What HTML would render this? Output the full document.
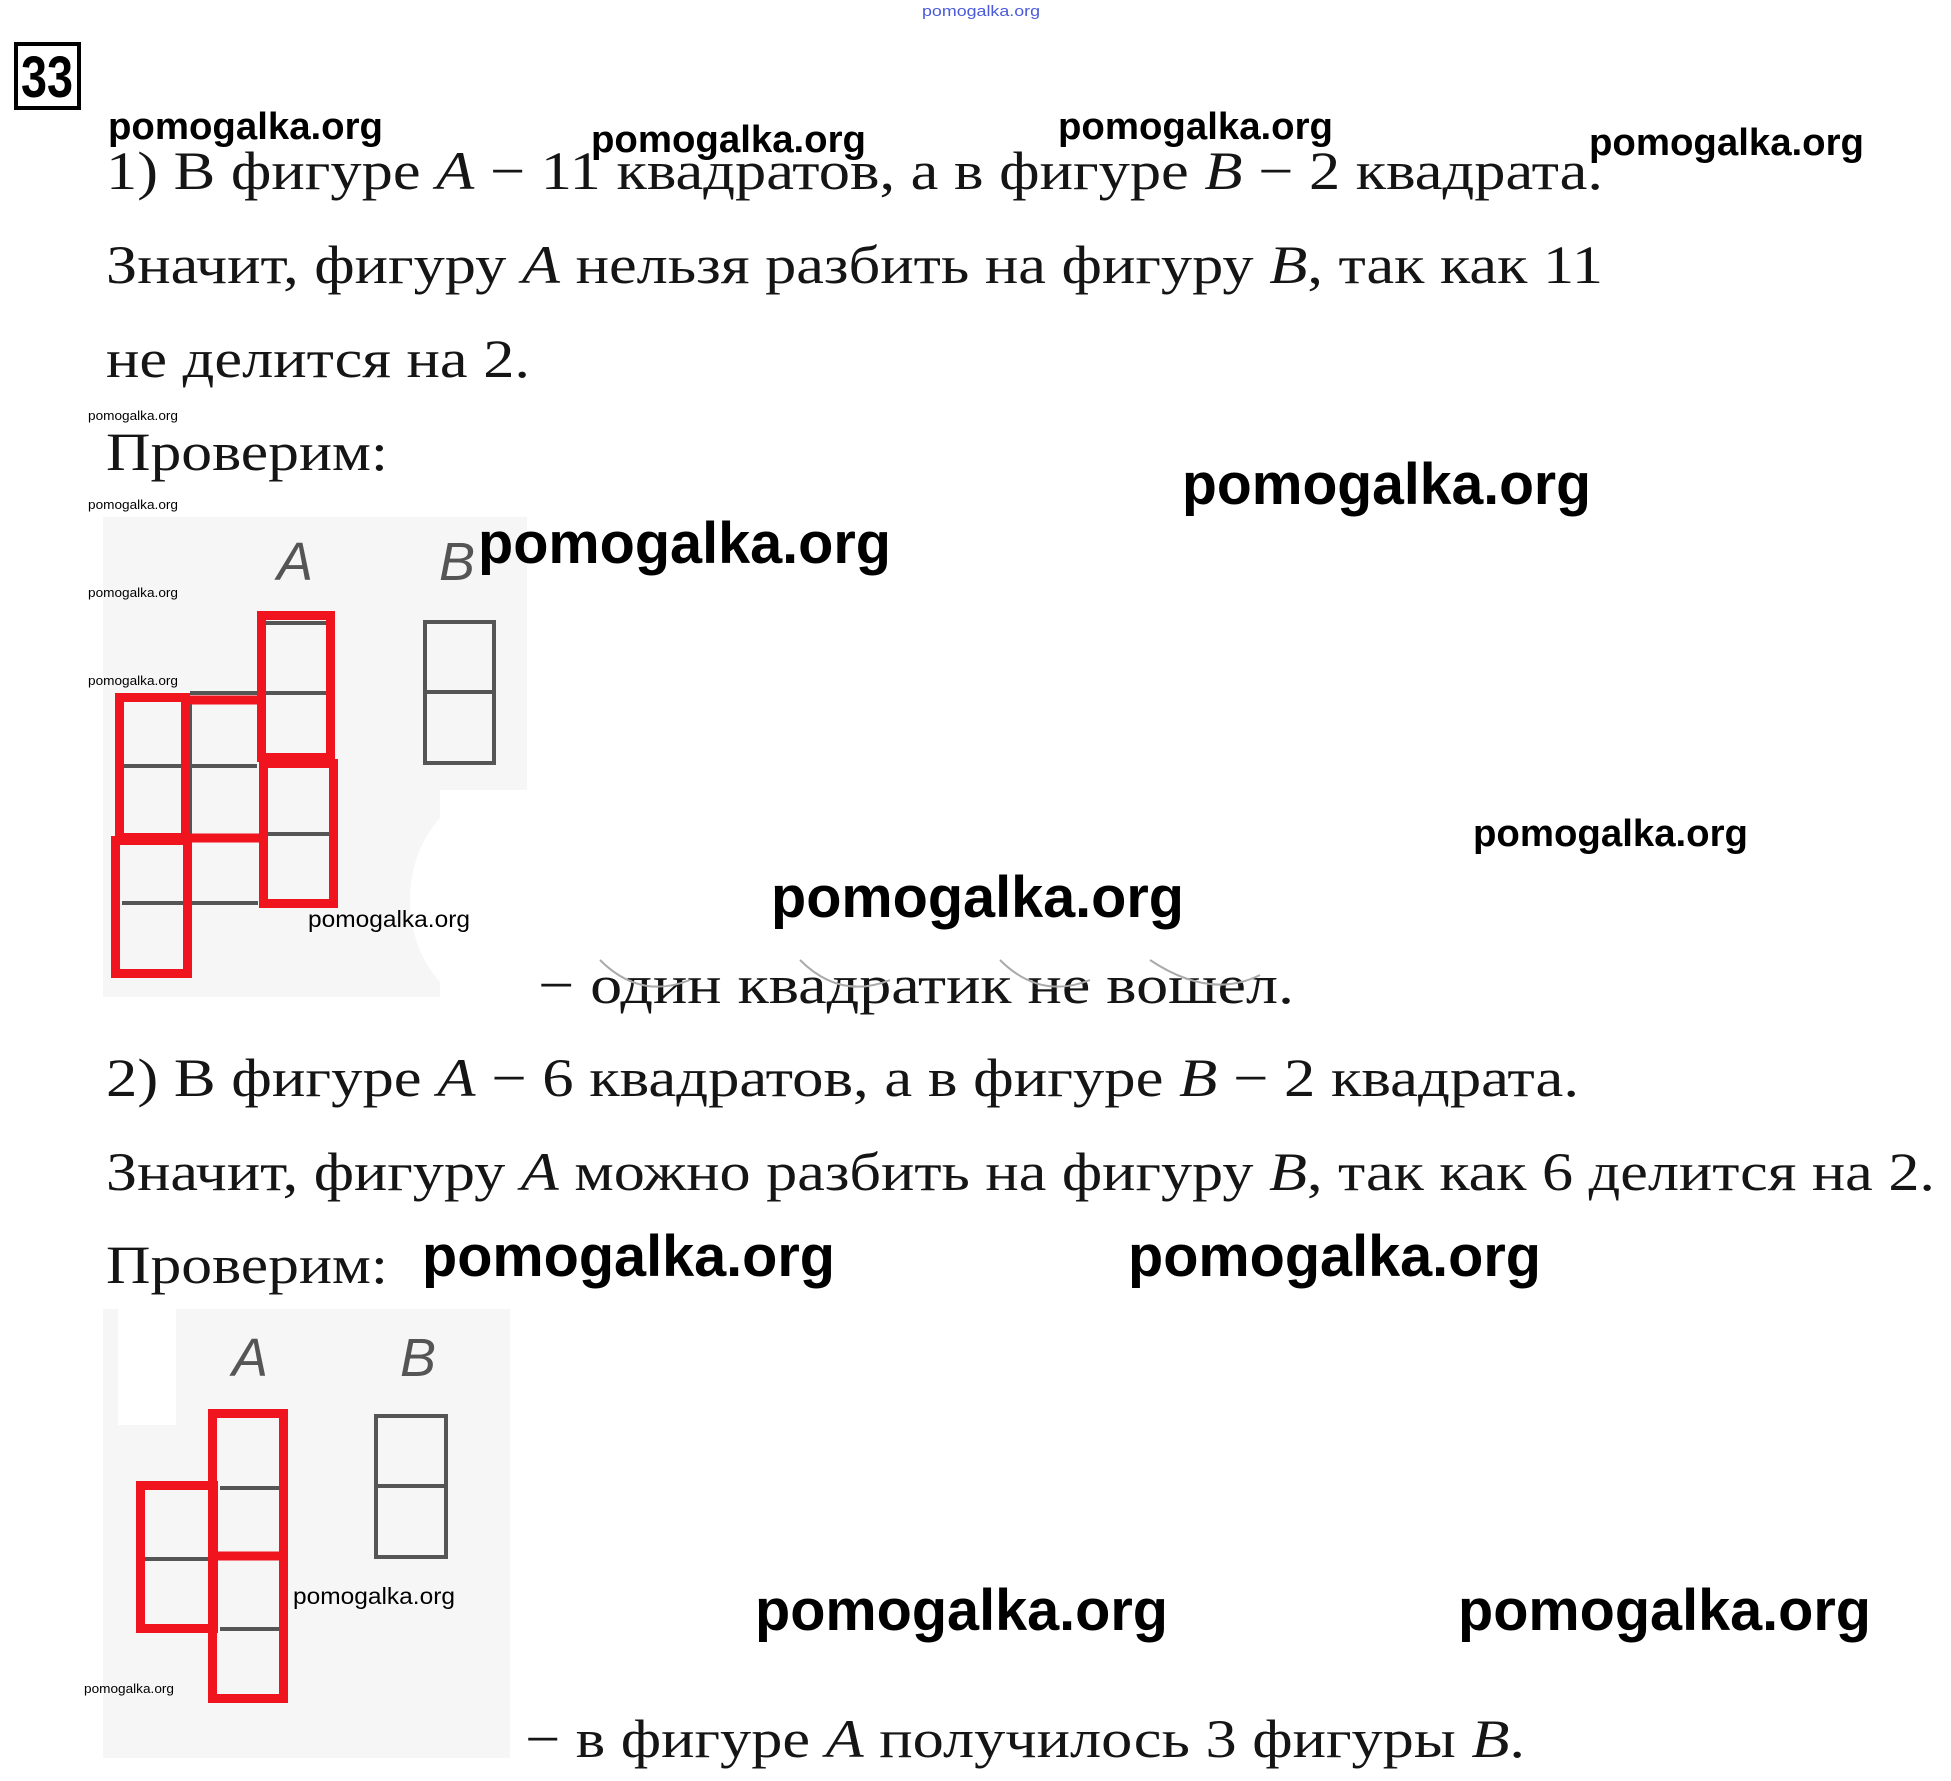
<!DOCTYPE html>
<html><head><meta charset="utf-8"><style>
html,body{margin:0;padding:0;background:#fff}
svg{display:block}
.t{font-family:"Liberation Serif","DejaVu Serif",serif;font-size:54px;fill:#151515}
.i{font-style:italic}
.w{font-family:"Liberation Sans","DejaVu Sans",sans-serif;font-weight:bold;fill:#000}
.lab{font-family:"Liberation Sans",sans-serif;font-style:italic;font-size:54px;fill:#555;text-anchor:middle}
</style></head><body>
<svg width="1951" height="1781" viewBox="0 0 1951 1781" xmlns="http://www.w3.org/2000/svg">
<rect width="1951" height="1781" fill="#fff"/>
<text x="922" y="16" font-family="Liberation Sans" font-size="15" fill="#4a5ad8" textLength="118" lengthAdjust="spacingAndGlyphs">pomogalka.org</text>
<rect x="16" y="44" width="63" height="64" fill="none" stroke="#000" stroke-width="4"/>
<text x="47" y="97" text-anchor="middle" font-family="Liberation Sans" font-weight="bold" font-size="58" textLength="52" lengthAdjust="spacingAndGlyphs">33</text>

<!-- figure 1 -->
<rect x="103" y="517" width="424" height="480" fill="#f6f6f6"/>
<ellipse cx="500" cy="900" rx="90" ry="110" fill="#fff"/>
<rect x="440" y="790" width="90" height="210" fill="#fff"/>
<text class="lab" x="295" y="580">A</text>
<text class="lab" x="457" y="580">B</text>
<g stroke="#555" stroke-width="4" fill="none">
<line x1="123" y1="766" x2="257" y2="766"/>
<line x1="122" y1="903" x2="258" y2="903"/>
<line x1="190" y1="693" x2="257" y2="693"/>
<line x1="265" y1="693" x2="327" y2="693"/>
<line x1="266" y1="834" x2="330" y2="834"/>
<line x1="265" y1="623" x2="327" y2="623"/>
<line x1="190" y1="700" x2="190" y2="840"/>
<rect x="425" y="622" width="69" height="141"/>
<line x1="425" y1="692" x2="494" y2="692"/>
</g>
<g stroke="#f0141e" stroke-width="9" fill="none">
<rect x="119.5" y="697.5" width="66" height="140"/>
<line x1="186" y1="700" x2="258" y2="700"/>
<line x1="186" y1="838" x2="262" y2="838"/>
<rect x="261.5" y="615.5" width="69" height="142"/>
<rect x="263.5" y="763.5" width="70" height="140"/>
<rect x="115.5" y="840.5" width="72" height="133"/>
</g>

<!-- figure 2 -->
<rect x="103" y="1309" width="407" height="449" fill="#f6f6f6"/>
<rect x="118" y="1309" width="58" height="116" fill="#fff"/>
<text class="lab" x="250" y="1376">A</text>
<text class="lab" x="418" y="1376">B</text>
<g stroke="#555" stroke-width="4" fill="none">
<line x1="220" y1="1488" x2="280" y2="1488"/>
<line x1="220" y1="1629" x2="280" y2="1629"/>
<line x1="145" y1="1559" x2="210" y2="1559"/>
<rect x="376" y="1416" width="70" height="141"/>
<line x1="376" y1="1486" x2="446" y2="1486"/>
</g>
<g stroke="#f0141e" stroke-width="9" fill="none">
<rect x="140.5" y="1485.5" width="73" height="143"/>
<rect x="212.5" y="1413.5" width="71" height="285"/>
<line x1="215" y1="1556" x2="280" y2="1556"/>
</g>

<!-- main text -->
<text class="t" x="106" y="189" textLength="1497" lengthAdjust="spacingAndGlyphs">1) В фигуре <tspan class="i">A</tspan> − 11 квадратов, а в фигуре <tspan class="i">B</tspan> − 2 квадрата.</text>
<text class="t" x="106" y="283" textLength="1497" lengthAdjust="spacingAndGlyphs">Значит, фигуру <tspan class="i">A</tspan> нельзя разбить на фигуру <tspan class="i">B</tspan>, так как 11</text>
<text class="t" x="106" y="377" textLength="424" lengthAdjust="spacingAndGlyphs">не делится на 2.</text>
<text class="t" x="106" y="470" textLength="282" lengthAdjust="spacingAndGlyphs">Проверим:</text>
<text class="t" x="538" y="1003" textLength="756" lengthAdjust="spacingAndGlyphs">− один квадратик не вошел.</text>
<g fill="none" stroke="#aaa" stroke-width="2">
<path d="M600 960 q40 40 90 20"/><path d="M800 960 q40 40 90 20"/><path d="M1000 960 q40 40 90 20"/><path d="M1150 960 q60 40 110 15"/>
</g>
<text class="t" x="106" y="1096" textLength="1473" lengthAdjust="spacingAndGlyphs">2) В фигуре <tspan class="i">A</tspan> − 6 квадратов, а в фигуре <tspan class="i">B</tspan> − 2 квадрата.</text>
<text class="t" x="106" y="1190" textLength="1829" lengthAdjust="spacingAndGlyphs">Значит, фигуру <tspan class="i">A</tspan> можно разбить на фигуру <tspan class="i">B</tspan>, так как 6 делится на 2.</text>
<text class="t" x="106" y="1283" textLength="282" lengthAdjust="spacingAndGlyphs">Проверим:</text>
<text class="t" x="525" y="1757" textLength="1000" lengthAdjust="spacingAndGlyphs">− в фигуре <tspan class="i">A</tspan> получилось 3 фигуры <tspan class="i">B</tspan>.</text>

<!-- watermarks -->
<g class="w">
<text x="108" y="139" font-size="38" textLength="275" lengthAdjust="spacingAndGlyphs">pomogalka.org</text>
<text x="591" y="152" font-size="38" textLength="275" lengthAdjust="spacingAndGlyphs">pomogalka.org</text>
<text x="1058" y="139" font-size="38" textLength="275" lengthAdjust="spacingAndGlyphs">pomogalka.org</text>
<text x="1589" y="155" font-size="38" textLength="275" lengthAdjust="spacingAndGlyphs">pomogalka.org</text>
<text x="1182" y="504" font-size="58" textLength="409" lengthAdjust="spacingAndGlyphs">pomogalka.org</text>
<text x="478" y="563" font-size="58" textLength="413" lengthAdjust="spacingAndGlyphs">pomogalka.org</text>
<text x="1473" y="846" font-size="38" textLength="275" lengthAdjust="spacingAndGlyphs">pomogalka.org</text>
<text x="771" y="917" font-size="58" textLength="413" lengthAdjust="spacingAndGlyphs">pomogalka.org</text>
<text x="422" y="1276" font-size="58" textLength="413" lengthAdjust="spacingAndGlyphs">pomogalka.org</text>
<text x="1128" y="1276" font-size="58" textLength="413" lengthAdjust="spacingAndGlyphs">pomogalka.org</text>
<text x="755" y="1630" font-size="58" textLength="413" lengthAdjust="spacingAndGlyphs">pomogalka.org</text>
<text x="1458" y="1630" font-size="58" textLength="413" lengthAdjust="spacingAndGlyphs">pomogalka.org</text>
</g>
<g font-family="Liberation Sans" fill="#000">
<text x="308" y="927" font-size="23" textLength="162" lengthAdjust="spacingAndGlyphs">pomogalka.org</text>
<text x="293" y="1604" font-size="23" textLength="162" lengthAdjust="spacingAndGlyphs">pomogalka.org</text>
<text x="88" y="420" font-size="13" textLength="90" lengthAdjust="spacingAndGlyphs">pomogalka.org</text>
<text x="88" y="509" font-size="13" textLength="90" lengthAdjust="spacingAndGlyphs">pomogalka.org</text>
<text x="88" y="597" font-size="13" textLength="90" lengthAdjust="spacingAndGlyphs">pomogalka.org</text>
<text x="88" y="685" font-size="13" textLength="90" lengthAdjust="spacingAndGlyphs">pomogalka.org</text>
<text x="84" y="1693" font-size="13" textLength="90" lengthAdjust="spacingAndGlyphs">pomogalka.org</text>
</g>
</svg>
</body></html>
